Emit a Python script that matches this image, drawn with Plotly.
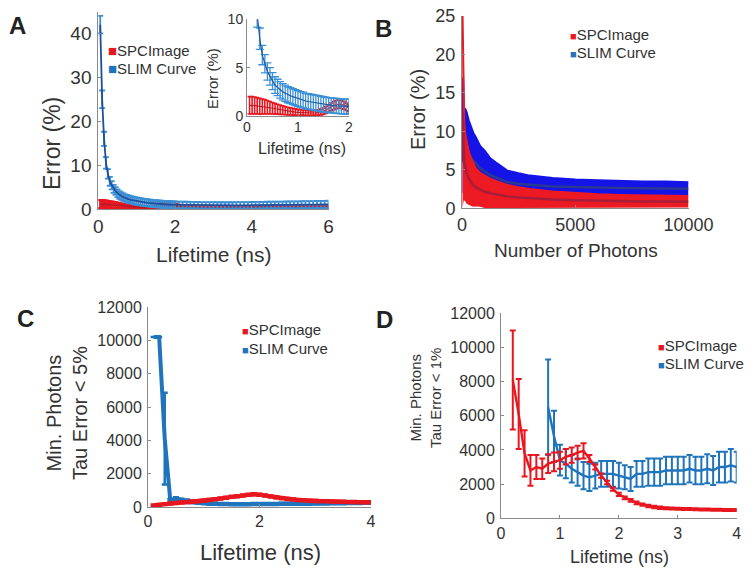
import plotly.graph_objects as go

RED = "#e8161f"
BLUE = "#1f74bc"
FONT = "Liberation Sans, Arial, sans-serif"
TXT = "#333333"
AX = "#8a8a8a"

# ---------------- Panel A: error vs lifetime ----------------
a_x = [0.05, 0.1, 0.15, 0.2, 0.25, 0.3, 0.35, 0.4, 0.45, 0.5,
       0.55, 0.6, 0.65, 0.7, 0.75, 0.8, 0.85, 0.9, 0.95, 1.0,
       1.05, 1.1, 1.15, 1.2, 1.25, 1.3, 1.35, 1.4, 1.45, 1.5,
       1.55, 1.6, 1.65, 1.7, 1.75, 1.8, 1.85, 1.9, 1.95, 2.0,
       2.1, 2.2, 2.3, 2.4, 2.5, 2.6, 2.7, 2.8, 2.9, 3.0,
       3.1, 3.2, 3.3, 3.4, 3.5, 3.6, 3.7, 3.8, 3.9, 4.0,
       4.1, 4.2, 4.3, 4.4, 4.5, 4.6, 4.7, 4.8, 4.9, 5.0,
       5.1, 5.2, 5.3, 5.4, 5.5, 5.6, 5.7, 5.8, 5.9, 6.0]
a_slim = [42.0, 25.0, 16.0, 10.5, 8.0, 6.3, 5.4, 4.6, 4.1, 3.6,
          3.2, 2.95, 2.7, 2.5, 2.35, 2.2, 2.1, 2.0, 1.9, 1.8,
          1.72, 1.65, 1.55, 1.5, 1.45, 1.4, 1.35, 1.3, 1.25, 1.2,
          1.15, 1.12, 1.1, 1.07, 1.05, 1.02, 1.0, 0.98, 0.97, 0.96,
          0.94, 0.92, 0.9, 0.88, 0.86, 0.85, 0.84, 0.83, 0.82, 0.81,
          0.8, 0.8, 0.8, 0.8, 0.8, 0.81, 0.82, 0.82, 0.83, 0.84,
          0.85, 0.86, 0.87, 0.88, 0.89, 0.9, 0.91, 0.92, 0.93, 0.94,
          0.95, 0.96, 0.97, 0.98, 0.99, 1.0, 1.01, 1.02, 1.03, 1.05]
a_slim_err = [2.0, 2.0, 1.6, 1.3, 1.1, 1.0, 0.95, 0.9, 0.9, 0.88,
              0.86, 0.85, 0.85, 0.84, 0.84, 0.83, 0.83, 0.82, 0.82, 0.82,
              0.81, 0.81, 0.8, 0.8, 0.8, 0.8, 0.8, 0.8, 0.79, 0.79,
              0.79, 0.78, 0.78, 0.78, 0.78, 0.77, 0.77, 0.77, 0.77, 0.76,
              0.76, 0.76, 0.75, 0.75, 0.75, 0.75, 0.74, 0.74, 0.74, 0.74,
              0.74, 0.74, 0.74, 0.74, 0.74, 0.74, 0.75, 0.75, 0.75, 0.75,
              0.76, 0.76, 0.76, 0.77, 0.77, 0.77, 0.78, 0.78, 0.78, 0.79,
              0.79, 0.8, 0.8, 0.8, 0.81, 0.81, 0.82, 0.82, 0.83, 0.84]
a_spc = [1.1, 1.1, 1.08, 1.05, 1.0, 0.98, 0.95, 0.9, 0.85, 0.8,
         0.75, 0.7, 0.65, 0.6, 0.55, 0.5, 0.47, 0.44, 0.41, 0.38,
         0.36, 0.34, 0.32, 0.31, 0.3, 0.31, 0.33, 0.36, 0.42, 0.5,
         0.62, 0.78, 0.95, 1.08, 1.18, 1.22, 1.2, 1.1, 0.95, 0.8,
         0.6, 0.48, 0.4, 0.35, 0.32, 0.3, 0.29, 0.28, 0.28, 0.28,
         0.28, 0.28, 0.28, 0.28, 0.29, 0.29, 0.29, 0.3, 0.3, 0.3,
         0.3, 0.3, 0.31, 0.31, 0.31, 0.31, 0.32, 0.32, 0.32, 0.32,
         0.33, 0.33, 0.33, 0.33, 0.34, 0.34, 0.34, 0.35, 0.35, 0.35]
a_spc_err = [0.9, 0.9, 0.88, 0.85, 0.82, 0.78, 0.74, 0.7, 0.65, 0.6,
             0.56, 0.52, 0.48, 0.45, 0.42, 0.4, 0.37, 0.35, 0.33, 0.31,
             0.3, 0.28, 0.27, 0.26, 0.25, 0.25, 0.26, 0.28, 0.3, 0.33,
             0.36, 0.38, 0.4, 0.42, 0.42, 0.42, 0.42, 0.4, 0.38, 0.35,
             0.32, 0.3, 0.28, 0.27, 0.26, 0.25, 0.25, 0.25, 0.25, 0.25,
             0.25, 0.25, 0.25, 0.25, 0.25, 0.25, 0.25, 0.25, 0.25, 0.25,
             0.25, 0.25, 0.25, 0.25, 0.25, 0.25, 0.25, 0.25, 0.25, 0.25,
             0.25, 0.25, 0.25, 0.25, 0.25, 0.25, 0.25, 0.25, 0.25, 0.25]

# ---------------- Panel B: error vs photon count ----------------
b_x = [25, 50, 75, 100, 150, 200, 300, 400, 500, 600, 800, 1000,
       1250, 1500, 2000, 2500, 3000, 4000, 5000, 6000, 7000, 8000, 9000, 10000]
b_spc = [12.5, 9.0, 7.0, 6.0, 5.2, 4.6, 3.9, 3.4, 3.0, 2.75, 2.4, 2.15,
         1.95, 1.8, 1.55, 1.4, 1.3, 1.15, 1.05, 0.98, 0.93, 0.9, 0.87, 0.85]
b_spc_err = [12.5, 8.0, 6.0, 5.0, 4.3, 4.0, 3.5, 3.1, 2.8, 2.5, 2.2, 2.1,
             1.9, 1.75, 1.5, 1.35, 1.2, 1.05, 0.92, 0.85, 0.8, 0.78, 0.76, 0.75]
b_slim = [6.0, 9.5, 8.0, 8.0, 7.9, 7.6, 7.0, 6.6, 6.2, 5.9, 5.2, 4.8,
          4.3, 4.0, 3.4, 3.2, 3.05, 2.85, 2.75, 2.7, 2.65, 2.6, 2.6, 2.55]
b_slim_err = [4.0, 7.5, 5.0, 5.0, 5.0, 4.9, 4.4, 4.0, 3.6, 3.4, 2.9, 2.7,
              2.2, 1.95, 1.5, 1.35, 1.2, 1.1, 1.0, 0.95, 0.9, 0.9, 0.88, 0.85]

# ---------------- Panel C: min photons, error < 5% ----------------
c_x = [0.1, 0.2, 0.3, 0.4, 0.5, 0.6, 0.7, 0.8, 0.9, 1.0,
       1.1, 1.2, 1.3, 1.4, 1.5, 1.6, 1.7, 1.8, 1.9, 2.0,
       2.1, 2.2, 2.3, 2.4, 2.5, 2.6, 2.7, 2.8, 2.9, 3.0,
       3.1, 3.2, 3.3, 3.4, 3.5, 3.6, 3.7, 3.8, 3.9, 4.0]
c_spc = [100, 130, 170, 210, 240, 270, 290, 310, 340, 380,
         420, 460, 510, 560, 610, 650, 690, 730, 760, 740,
         690, 630, 570, 520, 480, 450, 420, 400, 380, 360,
         350, 340, 330, 320, 310, 300, 295, 290, 285, 280]
c_spc_err = [50, 50, 55, 55, 55, 60, 60, 60, 60, 60,
             60, 60, 60, 60, 60, 60, 60, 60, 60, 60,
             60, 60, 60, 60, 60, 60, 60, 60, 60, 60,
             60, 60, 60, 60, 60, 60, 60, 60, 60, 60]
c_slim = [10200, 10200, 4100, 400, 500, 420, 380, 300, 250, 220,
          200, 190, 180, 175, 170, 170, 170, 170, 175, 180,
          180, 185, 185, 190, 190, 195, 195, 200, 200, 205,
          210, 215, 220, 225, 230, 235, 240, 245, 250, 250]
c_slim_err = [0, 0, 2750, 80, 80, 80, 70, 70, 60, 60,
              60, 60, 60, 60, 60, 60, 60, 60, 60, 60,
              60, 60, 60, 60, 60, 60, 60, 60, 60, 60,
              60, 60, 60, 60, 60, 60, 60, 60, 60, 60]

# ---------------- Panel D: min photons, error < 1% ----------------
d_spc_x = [0.2, 0.3, 0.4, 0.5, 0.6, 0.7, 0.8, 0.9, 1.0,
           1.1, 1.2, 1.3, 1.4, 1.5, 1.6, 1.7, 1.8, 1.9, 2.0,
           2.1, 2.2, 2.3, 2.4, 2.5, 2.6, 2.7, 2.8, 2.9, 3.0,
           3.1, 3.2, 3.3, 3.4, 3.5, 3.6, 3.7, 3.8, 3.9, 4.0]
d_spc = [8100, 6100, 3800, 2800, 3000, 2900, 3200, 3300, 3400,
         3600, 3700, 3850, 3950, 3500, 3000, 2500, 2100, 1700, 1400,
         1200, 1050, 900, 800, 720, 660, 620, 590, 570, 560,
         550, 540, 530, 520, 510, 500, 500, 490, 490, 490]
d_spc_err = [2900, 2050, 1350, 900, 700, 600, 550, 550, 500,
             450, 450, 400, 450, 200, 150, 120, 100, 90, 90,
             80, 80, 80, 70, 70, 70, 70, 60, 60, 60,
             60, 60, 60, 60, 60, 60, 60, 60, 60, 60]
d_slim_x = [0.8, 0.9, 1.0, 1.1, 1.2, 1.3, 1.4, 1.5, 1.6, 1.7, 1.8,
            1.9, 2.0, 2.1, 2.2, 2.3, 2.4, 2.5, 2.6, 2.7, 2.8, 2.9,
            3.0, 3.1, 3.2, 3.3, 3.4, 3.5, 3.6, 3.7, 3.8, 3.9, 4.0]
d_slim = [6500, 4800, 3400, 3200, 2900, 2700, 2500, 2400, 2500, 2600, 2600,
          2600, 2500, 2400, 2300, 2600, 2600, 2700, 2700, 2700, 2800, 2800,
          2800, 2800, 2900, 2800, 2800, 2900, 2800, 3000, 3000, 3100, 3000]
d_slim_err = [2800, 1500, 900, 850, 800, 800, 800, 800, 750, 750, 750,
              750, 750, 700, 700, 750, 750, 800, 800, 800, 800, 800,
              800, 800, 800, 800, 800, 850, 850, 900, 900, 950, 900]

# tick labels
a_xticks = [0, 2, 4, 6]
a_yticks = [0, 10, 20, 30, 40]
inset_xticks = [0, 1, 2]
inset_yticks = [0, 5, 10]
b_xticks = [0, 5000, 10000]
b_yticks = [0, 5, 10, 15, 20, 25]
c_xticks = [0, 2, 4]
d_xticks = [0, 1, 2, 3, 4]
photon_ticks = [0, 2000, 4000, 6000, 8000, 10000, 12000]

fig = go.Figure()

# ---- A main
fig.add_trace(go.Scatter(x=a_x, y=a_spc, mode="lines", line=dict(color="#b01a28", width=1.5),
                         error_y=dict(type="data", array=a_spc_err, color=RED, thickness=2.2, width=3),
                         xaxis="x", yaxis="y", showlegend=False))
fig.add_trace(go.Scatter(x=a_x, y=a_slim, mode="lines", line=dict(color="#1d4f9c", width=1.8),
                         error_y=dict(type="data", array=a_slim_err, color="#3b8fd4", thickness=1.8, width=3),
                         xaxis="x", yaxis="y", showlegend=False))
# ---- A inset
fig.add_trace(go.Scatter(x=a_x, y=a_spc, mode="lines", line=dict(color="#c41a26", width=1.2),
                         error_y=dict(type="data", array=a_spc_err, color=RED, thickness=1.6, width=2),
                         xaxis="x2", yaxis="y2", showlegend=False))
fig.add_trace(go.Scatter(x=a_x, y=a_slim, mode="lines", line=dict(color="#1d5aa6", width=1.2),
                         error_y=dict(type="data", array=a_slim_err, color="#3b8fd4", thickness=1.3, width=4),
                         xaxis="x2", yaxis="y2", showlegend=False))

# ---- B bands (mean +/- error)
b_slim_lo = [m - e for m, e in zip(b_slim, b_slim_err)]
b_slim_hi = [m + e for m, e in zip(b_slim, b_slim_err)]
b_spc_lo = [max(m - e, 0) for m, e in zip(b_spc, b_spc_err)]
b_spc_hi = [m + e for m, e in zip(b_spc, b_spc_err)]
fig.add_trace(go.Scatter(x=b_x, y=b_slim_lo, mode="lines", line=dict(width=0, color="#1414e6"),
                         xaxis="x3", yaxis="y3", showlegend=False))
fig.add_trace(go.Scatter(x=b_x, y=b_slim_hi, mode="lines", line=dict(width=2, color="#1414e6"),
                         fill="tonexty", fillcolor="#1414e6", xaxis="x3", yaxis="y3", showlegend=False))
fig.add_trace(go.Scatter(x=b_x, y=b_slim, mode="lines", line=dict(width=2.5, color="#2a3a92"),
                         xaxis="x3", yaxis="y3", showlegend=False))
fig.add_trace(go.Scatter(x=b_x, y=b_spc_lo, mode="lines", line=dict(width=0, color="#ec1a22"),
                         xaxis="x3", yaxis="y3", showlegend=False))
fig.add_trace(go.Scatter(x=b_x, y=b_spc_hi, mode="lines", line=dict(width=2, color="#ec1a22"),
                         fill="tonexty", fillcolor="#ec1a22", xaxis="x3", yaxis="y3", showlegend=False))
fig.add_trace(go.Scatter(x=b_x, y=b_spc, mode="lines", line=dict(width=2.5, color="#a81e3a"),
                         xaxis="x3", yaxis="y3", showlegend=False))

# ---- C
fig.add_trace(go.Scatter(x=c_x, y=c_slim, mode="lines", line=dict(color=BLUE, width=4),
                         error_y=dict(type="data", array=c_slim_err, color=BLUE, thickness=2.5, width=3),
                         xaxis="x4", yaxis="y4", showlegend=False))
fig.add_trace(go.Scatter(x=c_x, y=c_spc, mode="lines", line=dict(color=RED, width=4),
                         error_y=dict(type="data", array=c_spc_err, color=RED, thickness=2.5, width=3),
                         xaxis="x4", yaxis="y4", showlegend=False))

# ---- D
fig.add_trace(go.Scatter(x=d_slim_x, y=d_slim, mode="lines", line=dict(color=BLUE, width=2.4),
                         error_y=dict(type="data", array=d_slim_err, color=BLUE, thickness=2, width=3),
                         xaxis="x5", yaxis="y5", showlegend=False))
fig.add_trace(go.Scatter(x=d_spc_x, y=d_spc, mode="lines", line=dict(color=RED, width=2.4),
                         error_y=dict(type="data", array=d_spc_err, color=RED, thickness=2, width=3),
                         xaxis="x5", yaxis="y5", showlegend=False))


def ax(domain, rng, tickvals, size, anchor, standoff=0):
    return dict(domain=domain, range=rng, tickvals=tickvals, ticktext=[str(v) for v in tickvals],
                showgrid=False, zeroline=False, automargin=False,
                showline=True, linecolor=AX, linewidth=1, ticks="inside", ticklen=3,
                tickcolor=AX, tickfont=dict(family=FONT, size=size, color=TXT),
                anchor=anchor, ticklabelstandoff=standoff, fixedrange=True)


def px(x):
    return x / 756


def py(y):
    return 1 - y / 576


fig.update_layout(
    width=756, height=576, margin=dict(l=0, r=0, t=0, b=0, pad=0, autoexpand=False),
    paper_bgcolor="white", plot_bgcolor="rgba(0,0,0,0)",
    font=dict(family=FONT, color=TXT),
    xaxis=ax([px(98.3), px(328.5)], [0, 6], a_xticks, 19, "y", 0),
    yaxis=ax([py(209), py(11.5)], [0, 45], a_yticks, 19, "x", 2),
    xaxis2=ax([px(247), px(349)], [0, 2], inset_xticks, 14, "y2", -2),
    yaxis2=ax([py(116), py(19.3)], [0, 10], inset_yticks, 14, "x2", 0),
    xaxis3=ax([px(462), px(688.5)], [0, 10000], b_xticks, 18, "y3", 0),
    yaxis3=ax([py(208.3), py(16)], [0, 25], b_yticks, 18, "x3", 2),
    xaxis4=ax([px(148), px(371)], [0, 4], c_xticks, 16, "y4", 0),
    yaxis4=ax([py(507), py(307)], [0, 12000], photon_ticks, 16, "x4", 2),
    xaxis5=ax([px(501), px(736.7)], [0, 4], d_xticks, 16, "y5", 0),
    yaxis5=ax([py(518.3), py(313.3)], [0, 12000], photon_ticks, 16, "x5", 2),
)


def txt(x, y, text, size, angle=0, bold=False, xanchor="center"):
    fig.add_annotation(x=px(x), y=py(y), xref="paper", yref="paper", text=("<b>%s</b>" % text) if bold else text,
                       showarrow=False, textangle=angle, xanchor=xanchor, yanchor="middle",
                       font=dict(family=FONT, size=size, color="#222222" if bold else TXT))


# panel letters
txt(17, 26, "A", 24, bold=True)
txt(383, 28, "B", 24, bold=True)
txt(25, 318, "C", 24, bold=True)
txt(384, 319, "D", 24, bold=True)

# axis titles
txt(52, 144, "Error (%)", 23, angle=-90)
txt(214, 255, "Lifetime (ns)", 21)
txt(212, 79, "Error (%)", 15, angle=-90)
txt(302, 148, "Lifetime (ns)", 16)
txt(418, 110, "Error (%)", 20, angle=-90)
txt(576, 250, "Number of Photons", 19)
txt(67, 413, "Min. Photons<br>Tau Error < 5%", 20, angle=-90)
txt(260, 552, "Lifetime (ns)", 22)
txt(425, 398, "Min. Photons<br>Tau Error < 1%", 15, angle=-90)
txt(619, 557, "Lifetime (ns)", 18)


# legends
def leg(x, y, color, label, size, sq):
    txt(x, y, "<span style='color:%s;font-size:%dpx'>■</span>%s" % (color, sq, label), size, xanchor="left")


leg(106, 50, RED, "SPCImage", 15, 15)
leg(106, 68, BLUE, "SLIM Curve", 15, 15)
leg(568, 35, RED, "SPCImage", 15, 11)
leg(568, 53, BLUE, "SLIM Curve", 15, 11)
leg(240, 329, RED, "SPCImage", 15, 11)
leg(240, 348, BLUE, "SLIM Curve", 15, 11)
leg(656, 345, RED, "SPCImage", 15, 11)
leg(656, 363, BLUE, "SLIM Curve", 15, 11)

fig.write_html("out.html", config={"displayModeBar": False},
               post_script="document.body.style.margin='0px';document.body.style.overflow='hidden';")
